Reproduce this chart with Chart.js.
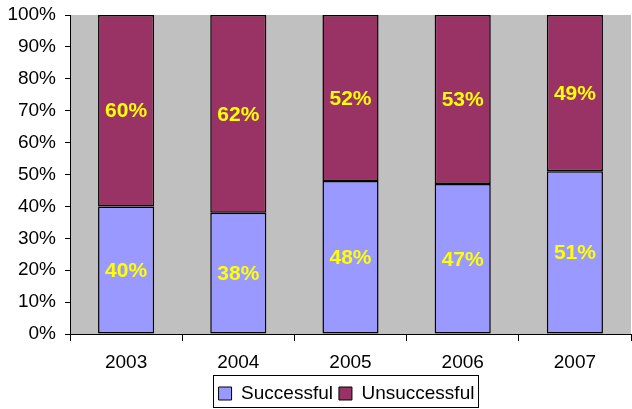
<!DOCTYPE html>
<html>
<head>
<meta charset="utf-8">
<script src="https://cdn.jsdelivr.net/npm/chart.js@4"></script>
<style>
html,body{margin:0;padding:0;background:#fff;}
#wrap{width:632px;height:409px;position:relative;}
</style>
</head>
<body>
<div id="wrap"><canvas id="c" width="632" height="409"></canvas></div>
<script>
const categories = ["2003", "2004", "2005", "2006", "2007"];
const successful = [40, 38, 48, 47, 51];
const unsuccessful = [60, 62, 52, 53, 49];
const yTicks = [0, 10, 20, 30, 40, 50, 60, 70, 80, 90, 100];

const FONT = '"Liberation Sans", Arial, sans-serif';

const bgPlugin = {
  id: 'bg',
  afterLayout(chart) {
    const lg = chart.legend;
    if (lg) {
      lg.left += 31; lg.right += 31;
      lg.top += 8; lg.bottom += 8;
    }
  },
  beforeDraw(chart) {
    const {ctx, chartArea: a} = chart;
    ctx.save();
    ctx.fillStyle = '#C0C0C0';
    ctx.fillRect(a.left, a.top, a.right - a.left, a.bottom - a.top);
    ctx.restore();
  },
  afterDraw(chart) {
    const ctx = chart.ctx;
    ctx.save();
    ctx.font = 'bold 21px ' + FONT;
    ctx.fillStyle = '#FFFF00';
    ctx.textAlign = 'center';
    ctx.textBaseline = 'middle';
    chart.data.datasets.forEach((ds, di) => {
      chart.getDatasetMeta(di).data.forEach((el, i) => {
        const y = (el.y + el.base) / 2;
        ctx.fillText(ds.data[i] + '%', el.x, y + 1);
      });
    });
    ctx.restore();
    if (chart.legend) {
      ctx.save();
      ctx.strokeStyle = '#000';
      ctx.lineWidth = 1;
      ctx.strokeRect(213.5, 375.5, 265, 32);
      ctx.restore();
    }
  }
};

new Chart(document.getElementById('c'), {
  type: 'bar',
  data: {
    labels: categories,
    datasets: [
      {label: 'Successful', data: successful, backgroundColor: '#9999FF', borderColor: '#000', borderWidth: 1.5, borderSkipped: false},
      {label: 'Unsuccessful', data: unsuccessful, backgroundColor: '#993366', borderColor: '#000', borderWidth: 1.5, borderSkipped: false}
    ]
  },
  options: {
    responsive: false,
    animation: false,
    devicePixelRatio: 1,
    layout: {padding: {left: 0, right: 1, top: 15, bottom: 4}},
    datasets: {bar: {categoryPercentage: 1.0, barPercentage: 0.5}},
    scales: {
      x: {
        stacked: true,
        offset: true,
        afterFit(scale) { scale.height = 36; },
        grid: {display: true, drawOnChartArea: false, drawTicks: true, tickLength: 7, color: '#000', offset: true},
        border: {display: true, color: '#000', width: 1},
        ticks: {color: '#000', font: {family: FONT, size: 19}, padding: 10}
      },
      y: {
        stacked: true,
        min: 0, max: 100,
        afterFit(scale) { scale.width = 70; scale.paddingTop = 0; scale.paddingBottom = 0; },
        afterBuildTicks(scale) { scale.ticks = yTicks.map(v => ({value: v})); },
        grid: {display: true, drawOnChartArea: false, drawTicks: true, tickLength: 5, color: '#000'},
        border: {display: true, color: '#000', width: 1},
        ticks: {color: '#000', font: {family: FONT, size: 19}, padding: 9, callback: v => v + '%'}
      }
    },
    plugins: {
      legend: {
        position: 'bottom',
        labels: {
          boxWidth: 13, boxHeight: 13, padding: 6,
          color: '#000',
          font: {family: FONT, size: 19},
          generateLabels(chart) {
            return chart.data.datasets.map((ds, i) => ({
              text: ds.label, fillStyle: ds.backgroundColor, strokeStyle: '#000', lineWidth: 1, datasetIndex: i, hidden: false
            }));
          }
        }
      },
      tooltip: {enabled: false}
    }
  },
  plugins: [bgPlugin]
});
</script>
</body>
</html>
